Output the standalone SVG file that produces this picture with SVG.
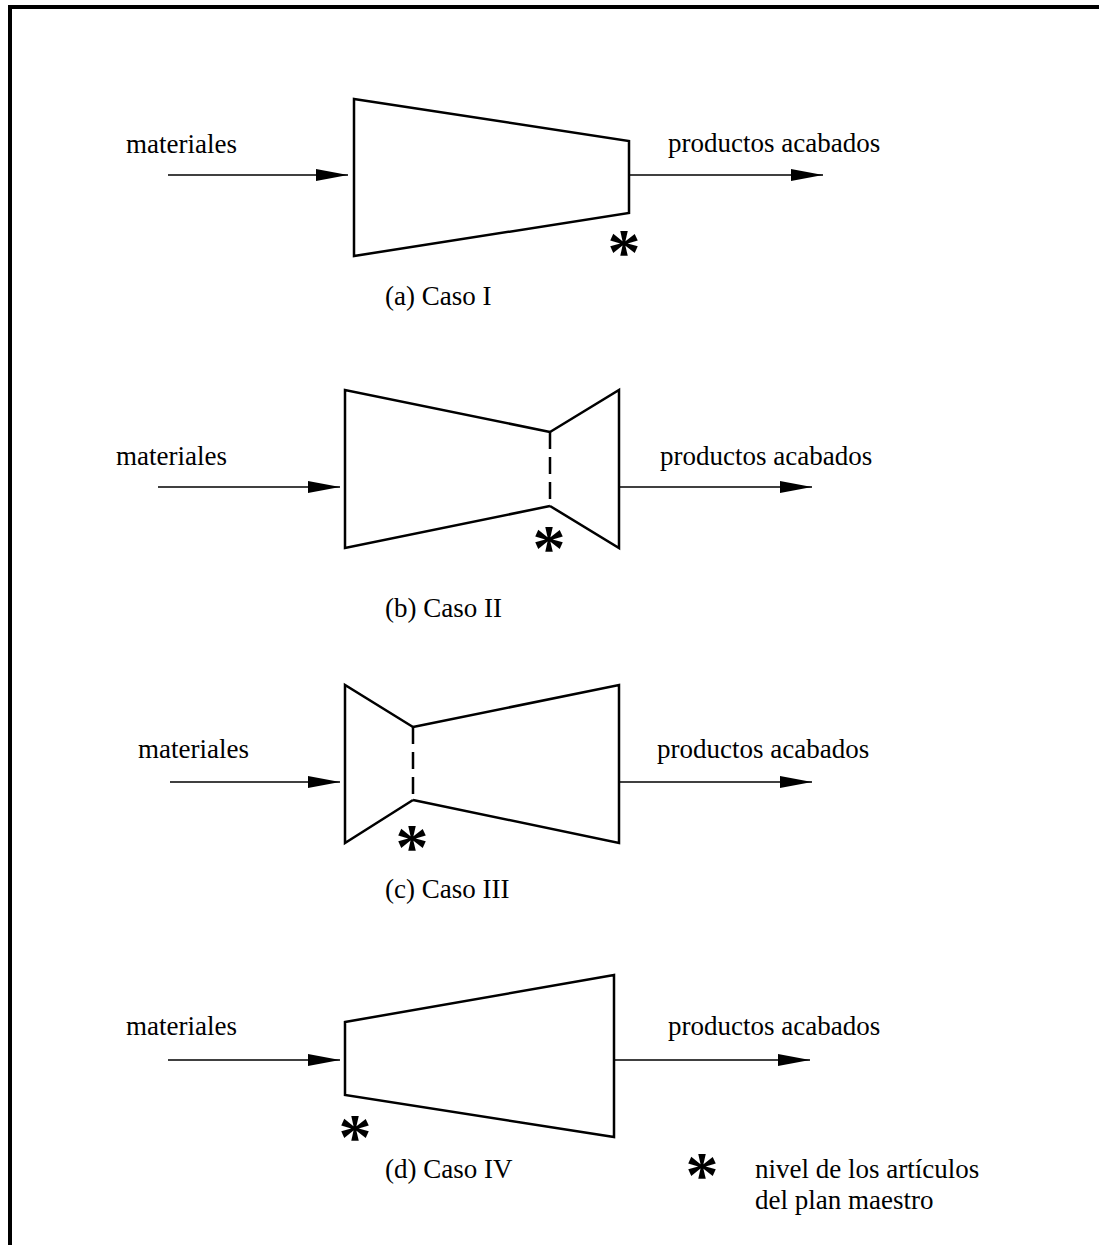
<svg xmlns="http://www.w3.org/2000/svg" width="1099" height="1245" viewBox="0 0 1099 1245">
  <style>
    .shape { fill: none; stroke: #000; stroke-width: 2.5; stroke-linejoin: miter; }
    .dash { fill: none; stroke: #000; stroke-width: 2.5; stroke-dasharray: 17 8; }
    .flow { fill: none; stroke: #000; stroke-width: 1.4; }
    .label { font-family: "Liberation Serif", "Times New Roman", serif; font-size: 27px; fill: #000; }
    .star { font-family: "Liberation Serif", "Times New Roman", serif; font-weight: bold; font-size: 66px; fill: #000; text-anchor: middle; }
  </style>
  <defs>
    <marker id="head" viewBox="0 0 32 12" refX="32" refY="6" markerWidth="32" markerHeight="12" markerUnits="userSpaceOnUse" orient="auto">
      <path d="M0,0 L32,6 L0,12 Z" fill="#000"/>
    </marker>
  </defs>
  <rect width="1099" height="1245" fill="#fff"/>

  <!-- frame: top and left rules -->
  <path d="M10,1245 L10,7 L1099,7" fill="none" stroke="#000" stroke-width="4"/>

  <!-- flow arrows -->
  <g id="connectors">
    <line class="flow" x1="168" y1="175" x2="348" y2="175" marker-end="url(#head)"/>
    <line class="flow" x1="629" y1="175" x2="823" y2="175" marker-end="url(#head)"/>
    <line class="flow" x1="158" y1="487" x2="340" y2="487" marker-end="url(#head)"/>
    <line class="flow" x1="619" y1="487" x2="812" y2="487" marker-end="url(#head)"/>
    <line class="flow" x1="170" y1="782" x2="340" y2="782" marker-end="url(#head)"/>
    <line class="flow" x1="619" y1="782" x2="812" y2="782" marker-end="url(#head)"/>
    <line class="flow" x1="168" y1="1060" x2="340" y2="1060" marker-end="url(#head)"/>
    <line class="flow" x1="614" y1="1060" x2="810" y2="1060" marker-end="url(#head)"/>
  </g>

  <!-- Case I -->
  <g id="caso-1">
    <polygon class="shape" points="354,99 629,141 629,213 354,256"/>
    <text class="label" x="126" y="153">materiales</text>
    <text class="label" x="668" y="152">productos acabados</text>
    <text class="label" x="385" y="305">(a) Caso I</text>
    <text class="star" x="624" y="274">*</text>
  </g>

  <!-- Case II -->
  <g id="caso-2">
    <polyline class="shape" points="550,432 345,390 345,548 550,506"/>
    <polyline class="shape" points="550,432 619,390 619,548 550,506"/>
    <line class="dash" x1="550" y1="432" x2="550" y2="506"/>
    <text class="label" x="116" y="465">materiales</text>
    <text class="label" x="660" y="465">productos acabados</text>
    <text class="label" x="385" y="617">(b) Caso II</text>
    <text class="star" x="549" y="570">*</text>
  </g>

  <!-- Case III -->
  <g id="caso-3">
    <polyline class="shape" points="413,727 345,685 345,843 413,800"/>
    <polyline class="shape" points="413,727 619,685 619,843 413,800"/>
    <line class="dash" x1="413" y1="727" x2="413" y2="800"/>
    <text class="label" x="138" y="758">materiales</text>
    <text class="label" x="657" y="758">productos acabados</text>
    <text class="label" x="385" y="898">(c) Caso III</text>
    <text class="star" x="412" y="869">*</text>
  </g>

  <!-- Case IV -->
  <g id="caso-4">
    <polygon class="shape" points="345,1022 614,975 614,1137 345,1095"/>
    <text class="label" x="126" y="1035">materiales</text>
    <text class="label" x="668" y="1035">productos acabados</text>
    <text class="label" x="385" y="1178">(d) Caso IV</text>
    <text class="star" x="355" y="1159">*</text>
  </g>

  <!-- legend -->
  <g id="leyenda">
    <text class="star" x="702" y="1197">*</text>
    <text class="label" x="755" y="1178">nivel de los artículos</text>
    <text class="label" x="755" y="1209">del plan maestro</text>
  </g>
</svg>
